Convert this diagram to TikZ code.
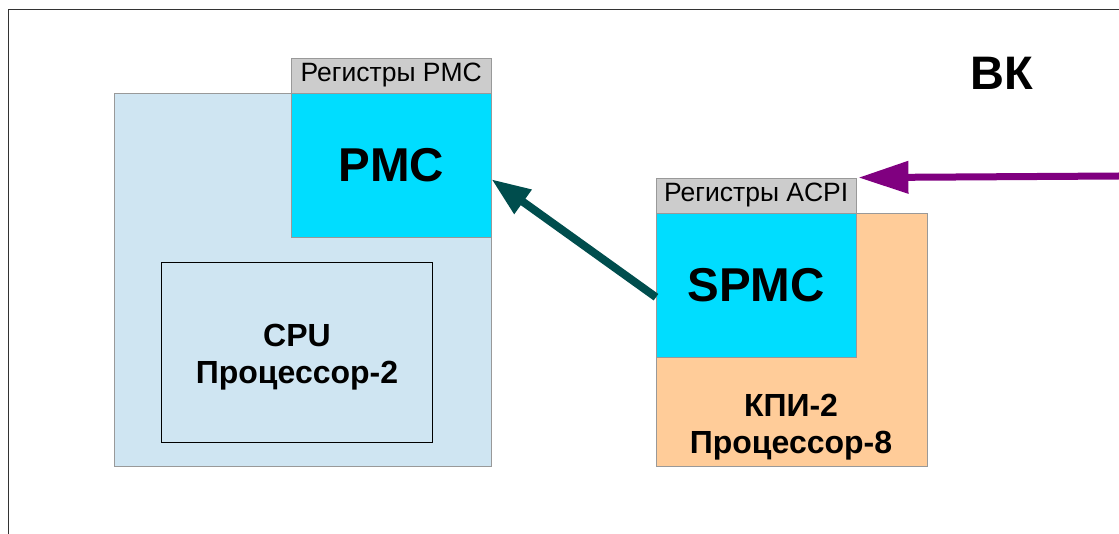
\documentclass[tikz,border=0pt]{standalone}
\usepackage{fontspec}
\setmainfont{Liberation Sans}
\definecolor{cpufill}{RGB}{207, 229, 242}
\definecolor{pmcfill}{RGB}{0, 221, 255}
\definecolor{regfill}{RGB}{204, 204, 204}
\definecolor{kpifill}{RGB}{255, 204, 153}
\definecolor{linkteal}{RGB}{0, 77, 77}
\definecolor{acpipurple}{RGB}{128, 0, 128}
\usetikzlibrary{positioning,arrows.meta}

\begin{document}
\begin{tikzpicture}[
            x=1pt, y=-1pt,
            chipbox/.style={rectangle, draw=black!40, anchor=north west, inner sep=0pt},
            unitbox/.style={
                rectangle, draw=black!40, fill=pmcfill,
                minimum width=200pt, minimum height=144pt,
                inner sep=0pt,
                font=\fontsize{47.5}{54}\selectfont\bfseries
            },
            regbox/.style={
                rectangle, draw=black!40, fill=regfill,
                minimum width=200pt, minimum height=35pt,
                inner sep=0pt,
                font=\fontsize{26.5}{30}\selectfont
            },
            chiplabel/.style={align=center, font=\fontsize{32}{37.5}\selectfont\bfseries},
        ]

            \useasboundingbox (0,0) rectangle (1119,534);
            \draw[line width=1.3pt, black!80] (8.5,534) -- (8.5,9.5) -- (1119,9.5);

            \node [chipbox, fill=cpufill, minimum width=377pt, minimum height=373pt] (cpu-chip) at (114,93) {};
            \node [unitbox, anchor=north east] (pmc) at (cpu-chip.north east) {PMC};
            \node [regbox, above=0pt of pmc] (pmc-regs) {Регистры PMC};
            \node [chipbox, draw=black, fill=cpufill, minimum width=271pt, minimum height=180pt, anchor=north west] (cpu) at (161,262) {};
            \node [chiplabel] (cpu-label) at (297,357) {CPU\\Процессор-2};

            \node [chipbox, fill=kpifill, minimum width=271pt, minimum height=253pt] (kpi-chip) at (656,213) {};
            \node [unitbox, anchor=north west] (spmc) at (kpi-chip.north west) {SPMC};
            \node [regbox, above=0pt of spmc] (acpi-regs) {Регистры ACPI};
            \node [chiplabel] (kpi-label) at (791,427) {КПИ-2\\Процессор-8};

            \node [font=\fontsize{47}{53}\selectfont\bfseries] (vk) at (1002,73) {ВК};

            \draw[-{Triangle[length=39pt,width=28pt]}, line width=8pt, linkteal]
                ([yshift=-12pt]spmc.west) -- ([yshift=-14pt]pmc.east);

            \coordinate (acpi-in) at (1119,176);
            \draw[-{Triangle[length=50pt,width=31pt]}, line width=7pt, acpipurple]
                (acpi-in) -- ([xshift=2pt]acpi-regs.north east);

        \end{tikzpicture}
\end{document}
